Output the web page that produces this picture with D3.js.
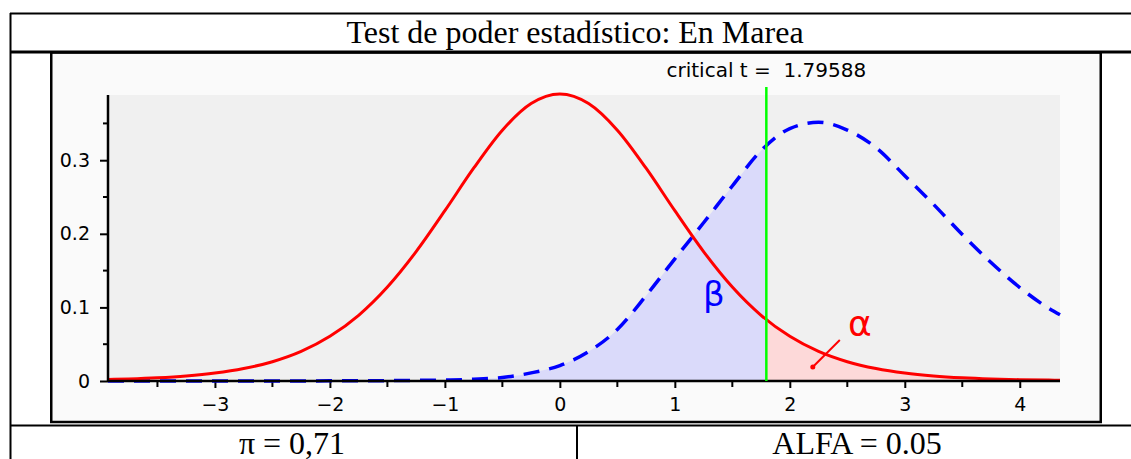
<!DOCTYPE html>
<html>
<head>
<meta charset="utf-8">
<script src="https://cdn.jsdelivr.net/npm/d3@7"></script>
<style>
  body { margin: 0; background: #fff; }
  svg { display: block; }
</style>
</head>
<body>
<div id="chart"></div>
<script>
"use strict";

// values
var tValues = [-3.93, -3.75, -3.5, -3.25, -3, -2.75, -2.5, -2.25, -2, -1.75, -1.5, -1.25, -1, -0.75, -0.5, -0.25,
               0, 0.25, 0.5, 0.75, 1, 1.25, 1.5, 1.75, 2, 2.25, 2.5, 2.75, 3, 3.25, 3.5, 3.75, 4, 4.25, 4.35];
// H0 density (red)
var nullDensity = [0.0020, 0.0028, 0.0044, 0.0069, 0.0108, 0.0169, 0.0262, 0.0402, 0.0607, 0.0893, 0.1277, 0.1758,
                   0.2314, 0.2891, 0.3408, 0.3770, 0.3900, 0.3770, 0.3408, 0.2891, 0.2314, 0.1758, 0.1277, 0.0893,
                   0.0607, 0.0402, 0.0262, 0.0169, 0.0108, 0.0069, 0.0044, 0.0028, 0.0018, 0.0012, 0.0010];
// H1 density (blue dashed)
var altDensity = [0.0000, 0.0000, 0.0000, 0.0000, 0.0000, 0.0001, 0.0001, 0.0001, 0.0002, 0.0003, 0.0005, 0.0008,
                  0.0013, 0.0024, 0.0048, 0.0110, 0.0210, 0.0400, 0.0700, 0.1160, 0.1660, 0.2150, 0.2650, 0.3130,
                  0.3430, 0.3515, 0.3410, 0.3170, 0.2790, 0.2400, 0.1990, 0.1610, 0.1270, 0.0990, 0.0900];

var xTicks = [-3, -2, -1, 0, 1, 2, 3, 4];
var xMinorTicks = [-3.5, -2.5, -1.5, -0.5, 0.5, 1.5, 2.5, 3.5];
var yTicks = [0, 0.1, 0.2, 0.3];
var yMinorTicks = [0.05, 0.15, 0.25, 0.35];
var critT = 1.79588;
var titleText = "Test de poder estadístico: En Marea";
var powerText = "π = 0,71";
var alphaText = "ALFA = 0.05";

var W = 1131, H = 459;
var serif = "'Liberation Serif', 'Times New Roman', serif";
var sans = "'DejaVu Sans', sans-serif";

var svg = d3.select("#chart").append("svg")
  .attr("width", W)
  .attr("height", H);

// table frame
var frame = svg.append("g").attr("stroke", "#000").attr("fill", "none");
frame.append("line").attr("x1", 10).attr("x2", W).attr("y1", 13.5).attr("y2", 13.5).attr("stroke-width", 2);
frame.append("line").attr("x1", 10.5).attr("x2", 10.5).attr("y1", 13).attr("y2", H).attr("stroke-width", 2);
frame.append("line").attr("x1", 10).attr("x2", W).attr("y1", 425.5).attr("y2", 425.5).attr("stroke-width", 2);
frame.append("line").attr("x1", 577).attr("x2", 577).attr("y1", 425).attr("y2", H).attr("stroke-width", 2);

svg.append("text")
  .attr("x", 575).attr("y", 43)
  .attr("text-anchor", "middle")
  .style("font-family", serif)
  .style("font-size", "32px")
  .text(titleText);

svg.append("text")
  .attr("x", 292).attr("y", 454)
  .attr("text-anchor", "middle")
  .style("font-family", serif)
  .style("font-size", "32px")
  .text(powerText);

svg.append("text")
  .attr("x", 857).attr("y", 454)
  .attr("text-anchor", "middle")
  .style("font-family", serif)
  .style("font-size", "32px")
  .text(alphaText);

// plot box
svg.append("rect")
  .attr("x", 51.25).attr("y", 52.5)
  .attr("width", 1049.5).attr("height", 369.5)
  .attr("fill", "#fafafa")
  .attr("stroke", "#000")
  .attr("stroke-width", 2.5);
// thick line under title
svg.append("line").attr("x1", 10).attr("x2", W).attr("y1", 52).attr("y2", 52)
  .attr("stroke", "#000").attr("stroke-width", 3);

// scales
var x = d3.scaleLinear().domain([d3.min(tValues), d3.max(tValues)]).range([108, 1060]);
var y = d3.scaleLinear().domain([0, 0.3886]).range([381, 95]);

var plot = svg.append("g");

plot.append("rect")
  .attr("x", x.range()[0]).attr("y", y.range()[1])
  .attr("width", x.range()[1] - x.range()[0])
  .attr("height", y.range()[0] - y.range()[1])
  .attr("fill", "#f0f0f0");

var points = tValues.map(function(t, i) {
  return { t: t, h0: nullDensity[i], h1: altDensity[i] };
});

var defs = svg.append("defs");
defs.append("clipPath").attr("id", "clip-beta")
  .append("rect")
  .attr("x", x.range()[0]).attr("y", y.range()[1])
  .attr("width", x(critT) - x.range()[0])
  .attr("height", y.range()[0] - y.range()[1]);
defs.append("clipPath").attr("id", "clip-alpha")
  .append("rect")
  .attr("x", x(critT)).attr("y", y.range()[1])
  .attr("width", x.range()[1] - x(critT))
  .attr("height", y.range()[0] - y.range()[1]);

var curve = d3.curveMonotoneX;

// beta region (under H1, left of critical t)
plot.append("path")
  .datum(points)
  .attr("clip-path", "url(#clip-beta)")
  .attr("fill", "#dadafa")
  .attr("d", d3.area().curve(curve).x(d => x(d.t)).y0(y(0)).y1(d => y(d.h1)));

// alpha region (under H0, right of critical t)
plot.append("path")
  .datum(points)
  .attr("clip-path", "url(#clip-alpha)")
  .attr("fill", "#fdd9d9")
  .attr("d", d3.area().curve(curve).x(d => x(d.t)).y0(y(0)).y1(d => y(d.h0)));

// axes
var xAxis = d3.axisBottom(x).tickValues(xTicks).tickSize(7).tickPadding(10)
  .tickFormat(d => d < 0 ? "\u2212" + Math.abs(d) : String(d));
var gx = plot.append("g")
  .attr("transform", "translate(0," + y(0) + ")")
  .call(xAxis);
gx.select(".domain").remove();
gx.selectAll(".tick line").attr("stroke-width", 2);
gx.selectAll("text")
  .style("font-family", sans)
  .style("font-size", "19px")
  .attr("fill", "#000");

plot.append("g")
  .attr("transform", "translate(0," + y(0) + ")")
  .selectAll("line").data(xMinorTicks).join("line")
  .attr("x1", d => x(d)).attr("x2", d => x(d))
  .attr("y1", 0).attr("y2", 6)
  .attr("stroke", "#000").attr("stroke-width", 2);

var yAxis = d3.axisLeft(y).tickValues(yTicks).tickSize(8).tickPadding(10)
  .tickFormat(d => d === 0 ? "0" : d3.format(".1f")(d));
var gy = plot.append("g")
  .attr("transform", "translate(" + x.range()[0] + ",0)")
  .call(yAxis);
gy.select(".domain").remove();
gy.selectAll(".tick line").attr("stroke-width", 2);
gy.selectAll("text")
  .style("font-family", sans)
  .style("font-size", "19px")
  .attr("fill", "#000");

plot.append("g")
  .selectAll("line").data(yMinorTicks).join("line")
  .attr("x1", x.range()[0] - 5).attr("x2", x.range()[0])
  .attr("y1", d => y(d)).attr("y2", d => y(d))
  .attr("stroke", "#000").attr("stroke-width", 2);

// curves
plot.append("path")
  .datum(points)
  .attr("fill", "none")
  .attr("stroke", "#0000ff")
  .attr("stroke-width", 3.5)
  .attr("stroke-dasharray", "16,10")
  .attr("d", d3.line().curve(curve).x(d => x(d.t)).y(d => y(d.h1)));

plot.append("path")
  .datum(points)
  .attr("fill", "none")
  .attr("stroke", "#ff0000")
  .attr("stroke-width", 3)
  .attr("d", d3.line().curve(curve).x(d => x(d.t)).y(d => y(d.h0)));

// axis lines
plot.append("line")
  .attr("x1", x.range()[0]).attr("x2", x.range()[1])
  .attr("y1", y(0)).attr("y2", y(0))
  .attr("stroke", "#000").attr("stroke-width", 2.5);
plot.append("line")
  .attr("x1", x.range()[0]).attr("x2", x.range()[0])
  .attr("y1", y.range()[1]).attr("y2", y(0))
  .attr("stroke", "#000").attr("stroke-width", 2.5);

// critical t
plot.append("line")
  .attr("x1", x(critT)).attr("x2", x(critT))
  .attr("y1", y(0)).attr("y2", y.range()[1] - 8)
  .attr("stroke", "#00ff00").attr("stroke-width", 2.5);

plot.append("text")
  .attr("x", x(critT)).attr("y", 77)
  .attr("text-anchor", "middle")
  .attr("xml:space", "preserve")
  .style("white-space", "pre")
  .style("font-family", sans)
  .style("font-size", "20px")
  .text("critical t =  " + critT);

// beta / alpha labels
plot.append("text")
  .attr("x", x(1.34)).attr("y", y(0.102))
  .attr("text-anchor", "middle")
  .attr("fill", "#0000ff")
  .style("font-family", sans)
  .style("font-size", "34px")
  .text("β");

plot.append("text")
  .attr("x", x(2.61)).attr("y", y(0.061))
  .attr("text-anchor", "middle")
  .attr("fill", "#ff0000")
  .style("font-family", sans)
  .style("font-size", "36px")
  .text("α");

plot.append("line")
  .attr("x1", x(2.435)).attr("y1", y(0.0557))
  .attr("x2", x(2.2)).attr("y2", y(0.019))
  .attr("stroke", "#ff0000").attr("stroke-width", 2);
plot.append("circle")
  .attr("cx", x(2.2)).attr("cy", y(0.019))
  .attr("r", 2.5)
  .attr("fill", "#ff0000");
</script>
</body>
</html>
